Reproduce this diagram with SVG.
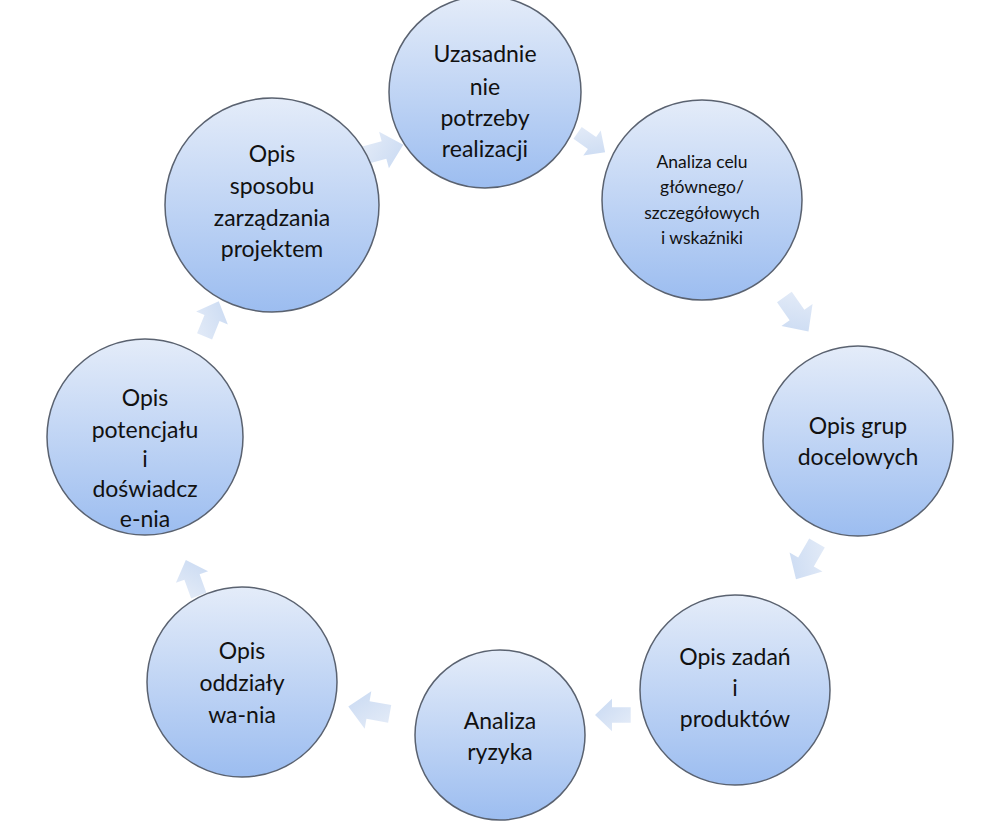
<svg xmlns="http://www.w3.org/2000/svg" width="995" height="826" viewBox="0 0 995 826">
<defs>
<linearGradient id="g" x1="0" y1="0" x2="0" y2="1"><stop offset="0" stop-color="#e4ecf9"/><stop offset="1" stop-color="#9cbdf0"/></linearGradient>
<linearGradient id="a" x1="0" y1="0" x2="1" y2="1"><stop offset="0" stop-color="#e6edf8"/><stop offset="1" stop-color="#c8d9f2"/></linearGradient>
<path id="arr" d="M-22,-9 L0,-9 L0,-19 L20,0 L0,19 L0,9 L-22,9 Z"/>
</defs>
<style>
.n{fill:url(#g);stroke:#5a6270;stroke-width:1.5}
.t{font-family:Lato,"Open Sans",sans-serif;font-size:23px;fill:#111;text-anchor:middle}
.s{font-size:17.5px}
.ar use{fill:url(#a)}
</style>
<rect width="995" height="826" fill="#fff"/>
<g id="connectors" class="ar">
<use href="#arr" transform="translate(384,150) rotate(-15)"/>
<use href="#arr" transform="translate(592,143) rotate(35) scale(0.8)"/>
<use href="#arr" transform="translate(797,315) rotate(55)"/>
<use href="#arr" transform="translate(806,562) rotate(120)"/>
<use href="#arr" transform="translate(612,715) rotate(180) scale(0.85)"/>
<use href="#arr" transform="translate(368,710) rotate(190)"/>
<use href="#arr" transform="translate(192,577) rotate(250) scale(0.9)"/>
<use href="#arr" transform="translate(212,318) rotate(-68) scale(0.9)"/>
</g>
<g id="n1"><circle class="n" cx="485" cy="92" r="96"/><text class="t"><tspan x="485" y="62">Uzasadnie</tspan><tspan x="485" y="95">nie</tspan><tspan x="485" y="126">potrzeby</tspan><tspan x="485" y="157">realizacji</tspan></text></g>
<g id="n2"><circle class="n" cx="702" cy="200" r="100"/><text class="t s"><tspan x="702" y="168">Analiza celu</tspan><tspan x="702" y="193">głównego/</tspan><tspan x="702" y="219">szczegółowych</tspan><tspan x="702" y="244">i wskaźniki</tspan></text></g>
<g id="n3"><circle class="n" cx="858" cy="441" r="95"/><text class="t"><tspan x="858" y="434">Opis grup</tspan><tspan x="858" y="465">docelowych</tspan></text></g>
<g id="n4"><circle class="n" cx="735" cy="690" r="95"/><text class="t"><tspan x="735" y="665">Opis zadań</tspan><tspan x="735" y="696">i</tspan><tspan x="735" y="727">produktów</tspan></text></g>
<g id="n5"><circle class="n" cx="500" cy="735" r="85"/><text class="t"><tspan x="500" y="729">Analiza</tspan><tspan x="500" y="760">ryzyka</tspan></text></g>
<g id="n6"><circle class="n" cx="242" cy="682" r="95"/><text class="t"><tspan x="242" y="659">Opis</tspan><tspan x="242" y="691">oddziały</tspan><tspan x="242" y="723">wa-nia</tspan></text></g>
<g id="n7"><circle class="n" cx="145" cy="437" r="98"/><text class="t"><tspan x="145" y="406">Opis</tspan><tspan x="145" y="438">potencjału</tspan><tspan x="145" y="467">i</tspan><tspan x="145" y="497">doświadcz</tspan><tspan x="145" y="527">e-nia</tspan></text></g>
<g id="n8"><circle class="n" cx="272" cy="205" r="107"/><text class="t"><tspan x="272" y="162">Opis</tspan><tspan x="272" y="194">sposobu</tspan><tspan x="272" y="226">zarządzania</tspan><tspan x="272" y="257">projektem</tspan></text></g>
</svg>
